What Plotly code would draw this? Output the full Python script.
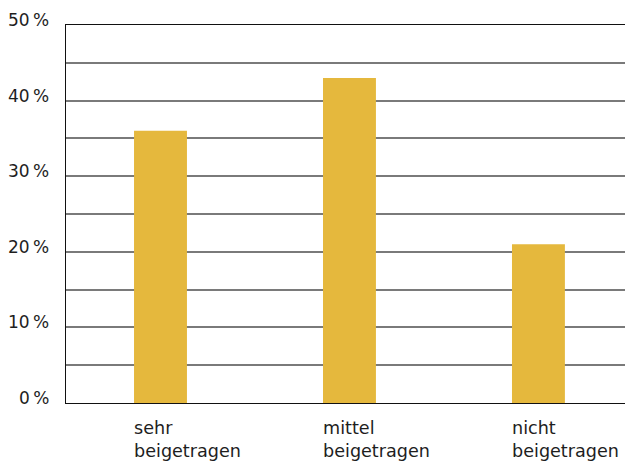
import plotly.graph_objects as go

categories = ["sehr<br>beigetragen", "mittel<br>beigetragen", "nicht<br>beigetragen"]
values = [36, 43, 21]
y_ticks = [0, 10, 20, 30, 40, 50]
y_tick_labels = ["0\u2009%", "10\u2009%", "20\u2009%", "30\u2009%", "40\u2009%", "50\u2009%"]

bar_width = 0.28
font = dict(family="DejaVu Sans, sans-serif", size=17, color="#1e1e1e")
cat_font = dict(family="DejaVu Sans, sans-serif", size=17.6, color="#1e1e1e")

fig = go.Figure()
fig.add_trace(go.Bar(
    x=list(range(len(values))), y=values, width=bar_width,
    marker=dict(color="#E5B83D", line=dict(width=0)),
    hoverinfo="skip",
))

annotations = []
for i, c in enumerate(categories):
    annotations.append(dict(
        x=i - bar_width / 2, y=0, xref="x", yref="y", text=c, showarrow=False,
        xanchor="left", yanchor="top", align="left", yshift=-13, xshift=-2, font=cat_font,
    ))
for v, t in zip(y_ticks, y_tick_labels):
    annotations.append(dict(
        x=0, y=v, xref="paper", yref="y", text=t, showarrow=False,
        xanchor="right", yanchor="middle", xshift=-15, yshift=5, font=font,
    ))

fig.update_layout(
    width=625, height=462,
    margin=dict(l=66, r=0, t=25, b=59),
    paper_bgcolor="white", plot_bgcolor="white",
    showlegend=False, font=font,
    annotations=annotations,
    xaxis=dict(range=[-0.5, 2.458], showticklabels=False, showgrid=False, zeroline=False,
               showline=True, mirror=True, linecolor="#111111", linewidth=1, ticks=""),
    yaxis=dict(range=[0, 50], tickvals=[5 * k for k in range(11)], showticklabels=False,
               showgrid=True, gridcolor="#7a7a7a", gridwidth=1.5, zeroline=False,
               showline=True, linecolor="#111111", linewidth=1, ticks=""),
)
fig.write_html("out.html")
